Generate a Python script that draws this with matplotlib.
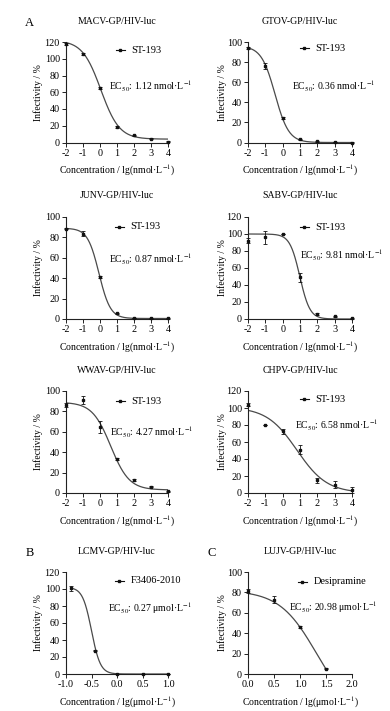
import numpy as np
import matplotlib
matplotlib.use("Agg")
import matplotlib.pyplot as plt

plt.rcParams['font.family'] = ['Liberation Serif', 'DejaVu Serif']
plt.rcParams['mathtext.fontset'] = 'stix'

# ---------------- data ----------------
titles = ["MACV-GP/HIV-luc", "GTOV-GP/HIV-luc", "JUNV-GP/HIV-luc", "SABV-GP/HIV-luc",
          "WWAV-GP/HIV-luc", "CHPV-GP/HIV-luc", "LCMV-GP/HIV-luc", "LUJV-GP/HIV-luc"]
compounds = ["ST-193", "ST-193", "ST-193", "ST-193", "ST-193", "ST-193", "F3406-2010", "Desipramine"]
ec50_labels = [r"EC$_{50}$: 1.12 nmol·L$^{-1}$", r"EC$_{50}$: 0.36 nmol·L$^{-1}$",
               r"EC$_{50}$: 0.87 nmol·L$^{-1}$", r"EC$_{50}$: 9.81 nmol·L$^{-1}$",
               r"EC$_{50}$: 4.27 nmol·L$^{-1}$", r"EC$_{50}$: 6.58 nmol·L$^{-1}$",
               r"EC$_{50}$: 0.27 μmol·L$^{-1}$", r"EC$_{50}$: 20.98 μmol·L$^{-1}$"]
xlabels = ["Concentration / lg(nmol·L$^{-1}$)"] * 6 + ["Concentration / lg(μmol·L$^{-1}$)"] * 2

x_nm = [-2, -1, 0, 1, 2, 3, 4]
macv_y = [118, 106, 65, 18.5, 8.5, 4.5, 1]
macv_err = [1, 1, 1.5, 1, 1, 0.5, 0.5]
gtov_y = [94, 76, 24, 3, 1, 0.5, 0]
gtov_err = [1, 3, 1, 0.5, 0.3, 0.3, 0.3]
junv_y = [88.5, 83.5, 41, 5.5, 1, 0.5, 0.5]
junv_err = [0.5, 2.5, 1, 0.5, 0.3, 0.3, 0.3]
sabv_y = [92, 96, 100, 49, 6, 3, 1]
sabv_err = [3, 8, 0.5, 5, 1, 1, 0.5]
wwav_y = [86, 91, 64.5, 33, 13, 6, 1.5]
wwav_err = [2, 4, 6, 1, 1, 0.5, 0.5]
chpv_y = [104, 80, 72.5, 51, 15, 10, 3.5]
chpv_err = [2, 0.5, 3, 5, 3, 4, 3]
lcmv_x = [-0.9, -0.43, 0.0, 0.5, 1.0]
lcmv_y = [101, 27.5, 0, 0, 0]
lcmv_err = [3, 1, 0.3, 0.3, 0.3]
lujv_x = [0.0, 0.5, 1.0, 1.5]
lujv_y = [81, 73, 46, 5]
lujv_err = [2, 3, 1, 0.5]

xs = [x_nm] * 6 + [lcmv_x, lujv_x]
ys = [macv_y, gtov_y, junv_y, sabv_y, wwav_y, chpv_y, lcmv_y, lujv_y]
errs = [macv_err, gtov_err, junv_err, sabv_err, wwav_err, chpv_err, lcmv_err, lujv_err]

# fitted 4PL curve parameters (bottom, top, logEC50, hill)
fit_bottom = [4, 0, 0.5, 0, 3, 0, 0, -42]
fit_top = [122, 96, 89, 100, 89, 101, 102, 82]
fit_logec50 = [0.05, -0.44, -0.06, 0.99, 0.63, 0.82, -0.5, 1.32]
fit_hill = [0.8, 1.1, 1.3, 1.5, 0.8, 0.5, 5.0, 1.21]

ylims = [120, 100, 100, 120, 100, 120, 120, 100]
xlims = [(-2, 4)] * 6 + [(-1.0, 1.0), (0.0, 2.0)]
xticks = [x_nm] * 6 + [[-1.0, -0.5, 0.0, 0.5, 1.0], [0.0, 0.5, 1.0, 1.5, 2.0]]
xticklabels = [["-2", "-1", "0", "1", "2", "3", "4"]] * 6 + \
              [["-1.0", "-0.5", "0.0", "0.5", "1.0"], ["0.0", "0.5", "1.0", "1.5", "2.0"]]

# ---------------- layout ----------------
W, H = 390, 711
fig = plt.figure(figsize=(W / 100, H / 100), dpi=100)

cols = [(66, 168), (248, 352)]
rows = [(42, 142.5), (217, 319), (391, 493), (572, 674)]
ylab_x = [38, 222]
leg_pos = [(0.49, 0.92), (0.50, 0.94), (0.48, 0.905), (0.50, 0.90),
           (0.49, 0.90), (0.50, 0.92), (0.48, 0.915), (0.48, 0.905)]
ec_pos = [(0.42, 0.56), (0.42, 0.56), (0.42, 0.585), (0.50, 0.62),
          (0.43, 0.595), (0.45, 0.66), (0.415, 0.645), (0.39, 0.655)]

FS = 7
curve_col = "#4a4a4a"

for i in range(8):
    r, c = divmod(i, 2)
    x0, x1 = cols[c]
    t, b = rows[r]
    ax = fig.add_axes([x0 / W, 1 - b / H, (x1 - x0) / W, (b - t) / H])
    for s in ["top", "right"]:
        ax.spines[s].set_visible(False)
    for s in ["left", "bottom"]:
        ax.spines[s].set_linewidth(0.8)
        ax.spines[s].set_color("#222222")

    xmin = min(xs[i])
    xmax = max(xs[i])
    xc = np.linspace(xmin, xmax, 300)
    yc = fit_bottom[i] + (fit_top[i] - fit_bottom[i]) / (1 + 10 ** ((xc - fit_logec50[i]) * fit_hill[i]))
    ax.plot(xc, yc, color=curve_col, lw=0.9, zorder=2)
    ax.errorbar(xs[i], ys[i], yerr=errs[i], fmt="s", ms=1.7, color="#111111",
                ecolor="#111111", elinewidth=0.6, capsize=1.3, capthick=0.6, zorder=3, clip_on=False)

    ax.set_xlim(*xlims[i])
    ax.set_ylim(0, ylims[i])
    ax.set_xticks(xticks[i])
    ax.set_xticklabels(xticklabels[i])
    ax.set_yticks(np.arange(0, ylims[i] + 1, 20))
    ax.tick_params(axis="both", labelsize=FS + 0.3, length=3, width=0.7, pad=1.5, color="#222222")

    # legend-like entry
    lx, ly = leg_pos[i]
    ax.plot([lx, lx + 0.085], [ly, ly], transform=ax.transAxes, color="#111111", lw=0.8, clip_on=False)
    ax.plot([lx + 0.0425], [ly], transform=ax.transAxes, marker="s", ms=1.7, color="#111111", clip_on=False)
    ax.text(lx + 0.15, ly, compounds[i], transform=ax.transAxes, fontsize=FS + 0.5,
            va="center", ha="left")

    ax.text(ec_pos[i][0], ec_pos[i][1], ec50_labels[i], transform=ax.transAxes,
            fontsize=FS, va="center", ha="left")

    # title, axis labels
    fig.text((x0 + x1) / 2 / W, 1 - (t - 21) / H, titles[i], fontsize=FS,
             ha="center", va="center")
    fig.text((x0 + x1) / 2 / W, 1 - (b + 28) / H, xlabels[i], fontsize=FS,
             ha="center", va="center")
    fig.text(ylab_x[c] / W, 1 - (t + b) / 2 / H, "Infectivity / %", fontsize=FS,
             ha="center", va="center", rotation=90)

fig.text(29 / W, 1 - 23 / H, "A", fontsize=9, ha="center", va="center")
fig.text(30 / W, 1 - 553 / H, "B", fontsize=9, ha="center", va="center")
fig.text(212 / W, 1 - 553 / H, "C", fontsize=9, ha="center", va="center")

fig.savefig("out.png", dpi=100, facecolor="white")
